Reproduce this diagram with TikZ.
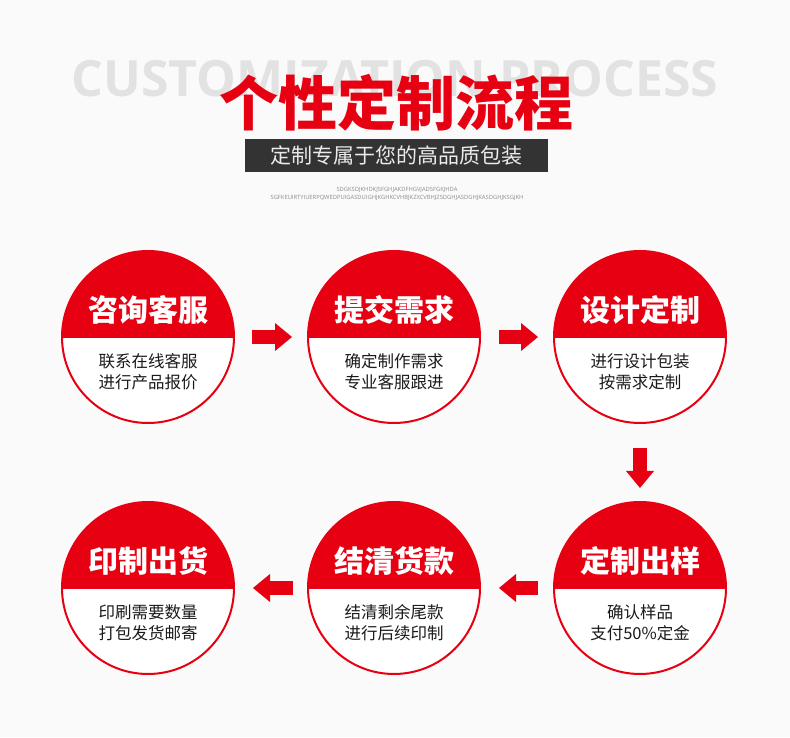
\documentclass[tikz,border=0pt]{standalone}
\usepackage{fontspec}
\setmainfont{Open Sans}
\newfontfamily\cjk{Noto Sans CJK SC}
\usetikzlibrary{positioning, calc, arrows.meta}
\definecolor{Brand}{HTML}{E60012}
\definecolor{Ink}{HTML}{1A1A1A}
\definecolor{Shade}{HTML}{E2E2E2}
\definecolor{Band}{HTML}{333333}
\definecolor{Paper}{HTML}{FAFAFA}
\tikzset{
    stepcircle/.style={circle, minimum size=172pt, inner sep=0pt, fill=Brand, draw=Brand, line width=2pt,
        path picture={\fill[white] ($(path picture bounding box.center)+(-95pt,-1pt)$) rectangle ($(path picture bounding box.center)+(95pt,-95pt)$);}},
    steptitle/.style={font=\cjk\bfseries\fontsize{30}{32}\selectfont, text=white},
    stepnote/.style={font=\cjk\fontsize{16.5}{21}\selectfont, text=Ink, align=center},
    blockarrow/.style={line width=14pt, color=Brand, -{Triangle[length=17pt, width=28pt, line width=0pt]}},
}

\begin{document}
\begin{tikzpicture}[x=1pt, y=1pt]
    \useasboundingbox[fill=Paper] (0,0) rectangle (790,737);

    % Titolo
    \node[anchor=base, font=\bfseries\fontsize{50}{50}\selectfont, text=Shade] (bgword) at (395,640) {CUSTOMIZATION PROCESS};
    \node[font=\cjk\bfseries\fontsize{59}{60}\selectfont, text=Brand] (title) at (396,634) {个性定制流程};
    \node[fill=Band, minimum width=303pt, minimum height=33pt, inner sep=0pt,
          font=\cjk\fontsize{21}{22}\selectfont, text=white!92!black] (band) at (396.5,581.5) {定制专属于您的高品质包装};
    \node[font=\fontsize{5.8}{6}\selectfont, text=black!45] (tiny1) at (397,547) {SDGKSDJKHDKJSFGHJAKDFHGVJADSFGKJHDA};
    \node[font=\fontsize{5.8}{6}\selectfont, text=black!45] (tiny2) at (397,539) {SGFKEUIRTYIUERPQWEDPUIGASDUIGHJKGHKCVHBJKZXCVBHJZSDGHJASDGHJKASDGHJKSGJKH};

    % Cerchi
    \node[stepcircle] (s1) at (148,400) {};
    \node[stepcircle] (s2) at (394,400) {};
    \node[stepcircle] (s3) at (640,400) {};
    \node[stepcircle] (s4) at (640,149) {};
    \node[stepcircle] (s5) at (394,149) {};
    \node[stepcircle] (s6) at (148,149) {};

    % Testi
    \node[steptitle] (t1) at ($(s1)+(0,27)$) {咨询客服};
    \node[stepnote] (n1) at ($(s1)+(0,-34.5)$) {联系在线客服\\进行产品报价};
    \node[steptitle] (t2) at ($(s2)+(0,27)$) {提交需求};
    \node[stepnote] (n2) at ($(s2)+(0,-34.5)$) {确定制作需求\\专业客服跟进};
    \node[steptitle] (t3) at ($(s3)+(0,27)$) {设计定制};
    \node[stepnote] (n3) at ($(s3)+(0,-34.5)$) {进行设计包装\\按需求定制};
    \node[steptitle] (t4) at ($(s4)+(0,27)$) {定制出样};
    \node[stepnote] (n4) at ($(s4)+(0,-34.5)$) {确认样品\\支付50\%定金};
    \node[steptitle] (t5) at ($(s5)+(0,27)$) {结清货款};
    \node[stepnote] (n5) at ($(s5)+(0,-34.5)$) {结清剩余尾款\\进行后续印制};
    \node[steptitle] (t6) at ($(s6)+(0,27)$) {印制出货};
    \node[stepnote] (n6) at ($(s6)+(0,-34.5)$) {印刷需要数量\\打包发货邮寄};

    % Frecce
    \draw[blockarrow, shorten <=17pt, shorten >=15pt] (s1.east) -- (s2.west);
    \draw[blockarrow, shorten <=18pt, shorten >=15pt] (s2.east) -- (s3.west);
    \draw[blockarrow, shorten <=24pt, shorten >=13pt] (s3.south) -- (s4.north);
    \draw[blockarrow, shorten <=15pt, shorten >=18pt] (s4.west) -- (s5.east);
    \draw[blockarrow, shorten <=14pt, shorten >=18pt] (s5.west) -- (s6.east);
\end{tikzpicture}
\end{document}
